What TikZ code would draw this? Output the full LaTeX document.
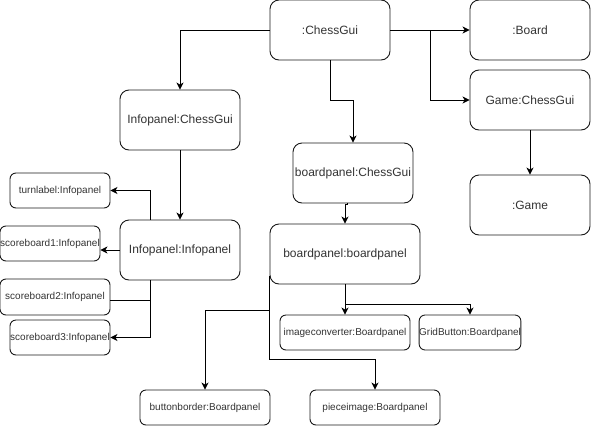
\documentclass[tikz,border=0pt]{standalone}
\usepackage{fontspec}
\setmainfont{Liberation Sans}
\usetikzlibrary{arrows.meta,calc}
\tikzset{
  box/.style={draw=black!90, line width=0.9pt, rounded corners=9pt, inner sep=0pt,
    minimum width=120pt, minimum height=60pt, text=black!80, font=\fontsize{12}{14}\selectfont},
  sbox/.style={draw=black!90, line width=0.9pt, rounded corners=6pt, inner sep=0pt,
    minimum width=100pt, minimum height=35pt, text=black!80, font=\fontsize{10}{12}\selectfont},
  arr/.style={draw=black, line width=0.9pt, -{Stealth[length=7pt,width=7pt,inset=2pt]}},
  ln/.style={draw=black, line width=0.9pt}
}
\begin{document}
\begin{tikzpicture}[x=1pt,y=-1pt]
\useasboundingbox (0,0) rectangle (591,426);
% large boxes
\node[box] (cg) at (330,30) {:ChessGui};
\node[box] (board) at (530,30) {:Board};
\node[box] (game) at (530,100) {Game:ChessGui};
\node[box] (gm) at (530,205) {:Game};
\node[box] (ipc) at (180,120) {Infopanel:ChessGui};
\node[box] (bpc) at (353,173) {boardpanel:ChessGui};
\node[box] (ipi) at (180,250) {Infopanel:Infopanel};
\node[box, minimum width=150pt] (bpb) at (345,254) {boardpanel:boardpanel};
% small boxes
\node[sbox] (turn) at (60,190.5) {turnlabel:Infopanel};
\node[sbox] (sb1) at (50,243.5) {scoreboard1:Infopanel};
\node[sbox, minimum width=110pt, minimum height=36pt] (sb2) at (55,297) {scoreboard2:Infopanel};
\node[sbox] (sb3) at (60,337.5) {scoreboard3:Infopanel};
\node[sbox, minimum width=130pt] (ic) at (345,332.5) {imageconverter:Boardpanel};
\node[sbox] (gb) at (470,332.5) {GridButton:Boardpanel};
\node[sbox, minimum width=130pt] (bb) at (205,407.5) {buttonborder:Boardpanel};
\node[sbox, minimum width=130pt] (pi) at (375,407.5) {pieceimage:Boardpanel};
% connectors
\coordinate (j1) at (430,30);
\draw[arr] (cg.east) -- (board.west);
\draw[arr] (j1) |- (game.west);
\draw[arr] (game.south) -- (gm.north);
\draw[arr] (cg.west) -| (ipc.north);
\draw[arr] (cg.south) -- ++(0,40) -| (bpc.north);
\draw[arr] (ipc.south) -- (ipi.north);
\draw[arr] ([xshift=-30pt]ipi.north) |- (turn.east);
\draw[arr] (ipi.west) -- (ipi.west -| sb1.east);
\draw[ln] ([yshift=-3pt]sb2.east) -- ([xshift=-30pt,yshift=-3pt]ipi.south |- sb2.east);
\draw[arr] ([xshift=-30pt]ipi.south) |- (sb3.east);
\draw[arr] ([xshift=-6pt]bpc.south) -- ++(0,1) -| (bpb.north);
\draw[arr] (bpb.south) -- (ic.north);
\draw[arr] ([yshift=-20pt]bpb.south) -| (gb.north);
\draw[arr] ([yshift=-22pt]bpb.west) |- ([yshift=30pt]pi.north) -- (pi.north);
\draw[arr] ([yshift=-56pt]bpb.west) -| (bb.north);
\end{tikzpicture}
\end{document}
